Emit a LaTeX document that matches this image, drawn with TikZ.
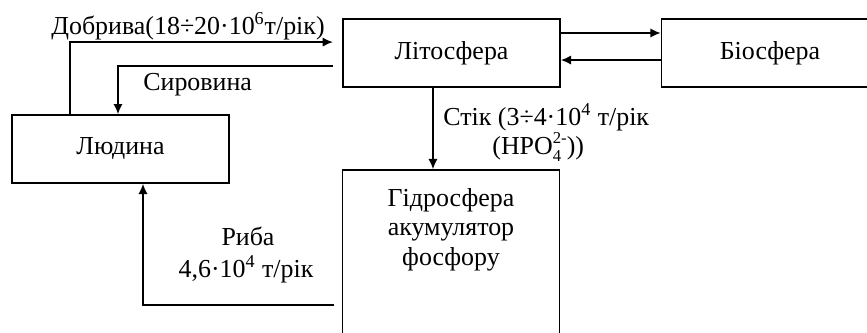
\documentclass[tikz,border=0pt]{standalone}
\usepackage{fontspec}
\setmainfont{Liberation Serif}
\usetikzlibrary{arrows.meta}

\begin{document}
\begin{tikzpicture}[x=0.54pt, y=-0.54pt, font=\fontsize{14}{16}\selectfont,
    box/.style={draw, line width=0.9pt, minimum width=117.2pt, minimum height=36.7pt, inner sep=0pt},
    lbl/.style={inner sep=0pt},
    flow/.style={-{Latex[length=5.5pt, width=5pt]}, line width=0.9pt}]

        \useasboundingbox (0, 0) rectangle (867, 332);
        \clip (0, 0) rectangle (867, 332);

        \node (lit) at (451.5, 53) [box] {Літосфера};
        \node (bio) at (770, 53) [box] {Біосфера};
        \node (lud) at (120.5, 149) [box] {Людина};
        \node (hyd) at (451, 257.5) [box, minimum height=94.5pt] {};
        \node (hydtxt) at (451, 188) [lbl, anchor=north, align=center] {Гідросфера\\акумулятор\\фосфору};

        \draw [flow] ([yshift=10.8pt]lit.east) -- ([yshift=10.8pt]bio.west);
        \draw [flow] ([yshift=-3.8pt]bio.west) -- ([yshift=-3.8pt]lit.east);

        \draw [flow, shorten >=5pt] ([xshift=-27.3pt]lud.north) |- ([yshift=5.9pt]lit.west);
        \node (dobr) at (188, 34) [lbl, anchor=base] {Добрива(18÷20·10\textsuperscript{6}т/рік)};

        \draw [flow, shorten <=5pt] ([yshift=-7pt]lit.west) -| ([xshift=-1.35pt]lud.north);
        \node (syr) at (143, 90) [lbl, anchor=base west] {Сировина};

        \draw [flow] ([xshift=-10pt]lit.south) -- ([xshift=-10pt]lit.south |- hyd.north);
        \node (stik) at (443, 125) [lbl, anchor=base west] {Стік (3÷4·10\textsuperscript{4} т/рік};
        \node (hpo) at (492, 154) [lbl, anchor=base west] {(HPO\rlap{\raisebox{-0.28em}{\fontsize{9}{9}\selectfont 4}}\raisebox{0.4em}{\fontsize{9}{9}\selectfont 2-}))};

        \draw [flow, shorten <=4pt] ([yshift=-25.65pt]hyd.west) -| ([xshift=12.15pt]lud.south);
        \node (riba) at (248, 245) [lbl, anchor=base] {Риба};
        \node (ribaq) at (246, 277) [lbl, anchor=base] {4,6·10\textsuperscript{4} т/рік};

    \end{tikzpicture}
\end{document}
